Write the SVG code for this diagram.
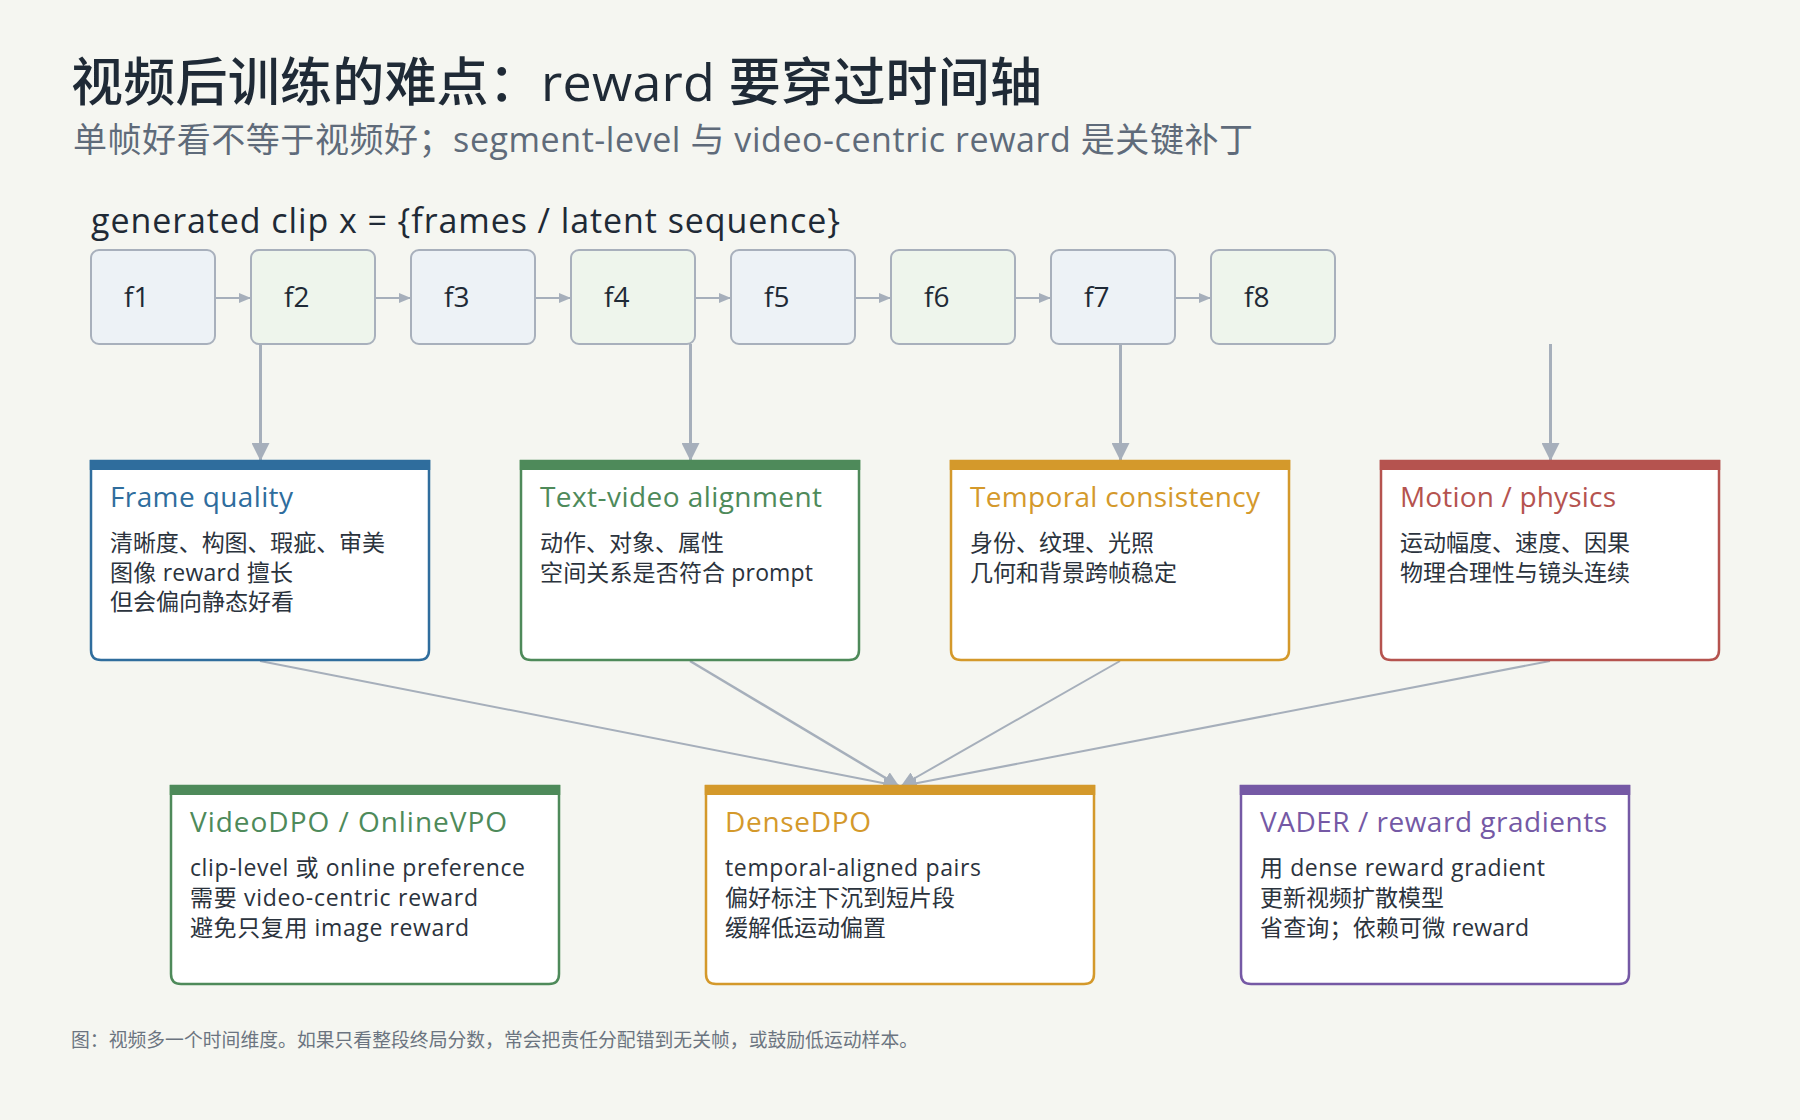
<svg xmlns="http://www.w3.org/2000/svg" width="1800" height="1120" viewBox="0 0 1800 1120">
<style>
  text { font-family: "Open Sans", "Noto Sans CJK SC", sans-serif; }
  .title { font-size: 52px; fill: #1f2a36; font-weight: 500; }
  .sub { font-size: 34px; fill: #5f6b7a; }
  .clip { font-size: 34px; fill: #1f2a36; }
  .frame { stroke: #a8b0bc; stroke-width: 2; }
  .fa { fill: #edf2f6; }
  .fb { fill: #eef5ec; }
  .flabel { font-size: 28px; fill: #1f2a36; }
  .card { fill: #ffffff; stroke-width: 2.5; }
  .ctitle { font-size: 28px; }
  .body { font-size: 23px; fill: #2b333d; }
  .conn { stroke: #a6afbb; fill: none; }
  .foot { font-size: 18.8px; fill: #6b7480; }
</style>
<defs>
  <marker id="ah-small" viewBox="0 0 12 10" refX="12" refY="5" markerWidth="12" markerHeight="10" markerUnits="userSpaceOnUse" orient="auto">
    <path d="M0,0 L12,5 L0,10 z" fill="#a6afbb"/>
  </marker>
  <marker id="ah" viewBox="0 0 18 18" refX="18" refY="9" markerWidth="18" markerHeight="18" markerUnits="userSpaceOnUse" orient="auto">
    <path d="M0,0 L18,9 L0,18 z" fill="#a6afbb"/>
  </marker>
  <marker id="ah-diag" viewBox="0 0 15 14" refX="15" refY="7" markerWidth="15" markerHeight="14" markerUnits="userSpaceOnUse" orient="auto">
    <path d="M0,0 L15,7 L0,14 z" fill="#a6afbb"/>
  </marker>
</defs>
<rect width="1800" height="1120" fill="#f5f6f1"/>

<text class="title" x="71" y="101" textLength="971">视频后训练的难点：reward 要穿过时间轴</text>
<text class="sub" x="73" y="152" textLength="1180">单帧好看不等于视频好；segment-level 与 video-centric reward 是关键补丁</text>
<text class="clip" x="91" y="233" textLength="749">generated clip x = {frames / latent sequence}</text>

<g id="connectors">
  <line class="conn" stroke-width="2" x1="215" y1="298" x2="251" y2="298" marker-end="url(#ah-small)"/>
  <line class="conn" stroke-width="2" x1="375" y1="298" x2="411" y2="298" marker-end="url(#ah-small)"/>
  <line class="conn" stroke-width="2" x1="535" y1="298" x2="571" y2="298" marker-end="url(#ah-small)"/>
  <line class="conn" stroke-width="2" x1="695" y1="298" x2="731" y2="298" marker-end="url(#ah-small)"/>
  <line class="conn" stroke-width="2" x1="855" y1="298" x2="891" y2="298" marker-end="url(#ah-small)"/>
  <line class="conn" stroke-width="2" x1="1015" y1="298" x2="1051" y2="298" marker-end="url(#ah-small)"/>
  <line class="conn" stroke-width="2" x1="1175" y1="298" x2="1211" y2="298" marker-end="url(#ah-small)"/>

  <line class="conn" stroke-width="3" x1="260.5" y1="344" x2="260.5" y2="461" marker-end="url(#ah)"/>
  <line class="conn" stroke-width="3" x1="690.5" y1="344" x2="690.5" y2="461" marker-end="url(#ah)"/>
  <line class="conn" stroke-width="3" x1="1120.5" y1="344" x2="1120.5" y2="461" marker-end="url(#ah)"/>
  <line class="conn" stroke-width="3" x1="1550.5" y1="344" x2="1550.5" y2="461" marker-end="url(#ah)"/>

  <line class="conn" stroke-width="2" x1="260" y1="661" x2="898" y2="786" marker-end="url(#ah-diag)"/>
  <line class="conn" stroke-width="2.5" x1="690" y1="661" x2="899" y2="786" marker-end="url(#ah-diag)"/>
  <line class="conn" stroke-width="2" x1="1120" y1="661" x2="901" y2="786" marker-end="url(#ah-diag)"/>
  <line class="conn" stroke-width="2" x1="1550" y1="661" x2="902" y2="786" marker-end="url(#ah-diag)"/>
</g>

<g id="f1"><rect class="frame fa" x="91" y="250" width="124" height="94" rx="8"/><text class="flabel" x="124" y="307">f1</text></g>
<g id="f2"><rect class="frame fb" x="251" y="250" width="124" height="94" rx="8"/><text class="flabel" x="284" y="307">f2</text></g>
<g id="f3"><rect class="frame fa" x="411" y="250" width="124" height="94" rx="8"/><text class="flabel" x="444" y="307">f3</text></g>
<g id="f4"><rect class="frame fb" x="571" y="250" width="124" height="94" rx="8"/><text class="flabel" x="604" y="307">f4</text></g>
<g id="f5"><rect class="frame fa" x="731" y="250" width="124" height="94" rx="8"/><text class="flabel" x="764" y="307">f5</text></g>
<g id="f6"><rect class="frame fb" x="891" y="250" width="124" height="94" rx="8"/><text class="flabel" x="924" y="307">f6</text></g>
<g id="f7"><rect class="frame fa" x="1051" y="250" width="124" height="94" rx="8"/><text class="flabel" x="1084" y="307">f7</text></g>
<g id="f8"><rect class="frame fb" x="1211" y="250" width="124" height="94" rx="8"/><text class="flabel" x="1244" y="307">f8</text></g>

<g id="frame-quality">
  <path class="card" stroke="#2f6d9d" d="M91,461 H429 V650 Q429,660 419,660 H101 Q91,660 91,650 Z"/>
  <rect x="89.75" y="460" width="340.5" height="10" fill="#2f6d9d"/>
  <text class="ctitle" fill="#2f6d9d" x="110" y="507" textLength="183">Frame quality</text>
  <text class="body" x="110" y="551" textLength="275">清晰度、构图、瑕疵、审美</text>
  <text class="body" x="110" y="581" textLength="183">图像 reward 擅长</text>
  <text class="body" x="110" y="610">但会偏向静态好看</text>
</g>
<g id="text-video-alignment">
  <path class="card" stroke="#4e8a5a" d="M521,461 H859 V650 Q859,660 849,660 H531 Q521,660 521,650 Z"/>
  <rect x="519.75" y="460" width="340.5" height="10" fill="#4e8a5a"/>
  <text class="ctitle" fill="#4e8a5a" x="540" y="507" textLength="282">Text-video alignment</text>
  <text class="body" x="540" y="551">动作、对象、属性</text>
  <text class="body" x="540" y="581" textLength="273">空间关系是否符合 prompt</text>
</g>
<g id="temporal-consistency">
  <path class="card" stroke="#d4992b" d="M951,461 H1289 V650 Q1289,660 1279,660 H961 Q951,660 951,650 Z"/>
  <rect x="949.75" y="460" width="340.5" height="10" fill="#d4992b"/>
  <text class="ctitle" fill="#d4992b" x="970" y="507" textLength="290">Temporal consistency</text>
  <text class="body" x="970" y="551">身份、纹理、光照</text>
  <text class="body" x="970" y="581">几何和背景跨帧稳定</text>
</g>
<g id="motion-physics">
  <path class="card" stroke="#b5534f" d="M1381,461 H1719 V650 Q1719,660 1709,660 H1391 Q1381,660 1381,650 Z"/>
  <rect x="1379.75" y="460" width="340.5" height="10" fill="#b5534f"/>
  <text class="ctitle" fill="#b5534f" x="1400" y="507" textLength="216">Motion / physics</text>
  <text class="body" x="1400" y="551">运动幅度、速度、因果</text>
  <text class="body" x="1400" y="581">物理合理性与镜头连续</text>
</g>

<g id="videodpo">
  <path class="card" stroke="#4e8a5a" d="M171,786 H559 V974 Q559,984 549,984 H181 Q171,984 171,974 Z"/>
  <rect x="169.75" y="785" width="390.5" height="10" fill="#4e8a5a"/>
  <text class="ctitle" fill="#4e8a5a" x="190" y="832" textLength="317">VideoDPO / OnlineVPO</text>
  <text class="body" x="190" y="876" textLength="335">clip-level 或 online preference</text>
  <text class="body" x="190" y="906" textLength="288">需要 video-centric reward</text>
  <text class="body" x="190" y="936" textLength="279">避免只复用 image reward</text>
</g>
<g id="densedpo">
  <path class="card" stroke="#d4992b" d="M706,786 H1094 V974 Q1094,984 1084,984 H716 Q706,984 706,974 Z"/>
  <rect x="704.75" y="785" width="390.5" height="10" fill="#d4992b"/>
  <text class="ctitle" fill="#d4992b" x="725" y="832" textLength="146">DenseDPO</text>
  <text class="body" x="725" y="876" textLength="256">temporal-aligned pairs</text>
  <text class="body" x="725" y="906">偏好标注下沉到短片段</text>
  <text class="body" x="725" y="936">缓解低运动偏置</text>
</g>
<g id="vader">
  <path class="card" stroke="#7559a5" d="M1241,786 H1629 V974 Q1629,984 1619,984 H1251 Q1241,984 1241,974 Z"/>
  <rect x="1239.75" y="785" width="390.5" height="10" fill="#7559a5"/>
  <text class="ctitle" fill="#7559a5" x="1260" y="832" textLength="347">VADER / reward gradients</text>
  <text class="body" x="1260" y="876" textLength="285">用 dense reward gradient</text>
  <text class="body" x="1260" y="906">更新视频扩散模型</text>
  <text class="body" x="1260" y="936" textLength="269">省查询；依赖可微 reward</text>
</g>

<text class="foot" x="71" y="1047" textLength="847">图：视频多一个时间维度。如果只看整段终局分数，常会把责任分配错到无关帧，或鼓励低运动样本。</text>
</svg>
